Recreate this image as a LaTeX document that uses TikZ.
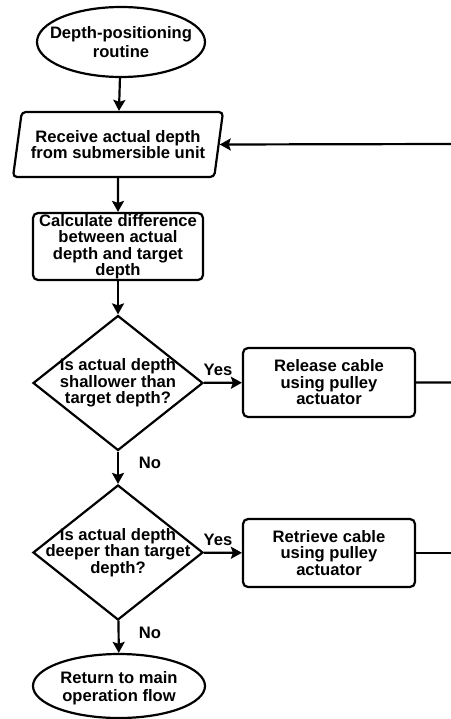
\documentclass[tikz,border=0pt]{standalone}
\usepackage{fontspec}
\setmainfont{Liberation Sans}
\usetikzlibrary{shapes.geometric,arrows.meta}
\begin{document}
\begin{tikzpicture}[x=1pt,y=-1pt,
  every node/.style={font=\bfseries\fontsize{16.6}{16.5}\selectfont, align=center, inner sep=0pt},
  ln/.style={line width=2.2pt},
  arr/.style={ln,-{Stealth[length=11pt,width=12pt,inset=2pt]}},
  term/.style={ellipse, draw, ln, minimum width=168pt, minimum height=70pt},
  termtext/.style={font=\bfseries\fontsize{16.6}{18.5}\selectfont},
  io/.style={trapezium, draw, ln, trapezium left angle=73, trapezium right angle=107, trapezium stretches body, minimum width=210pt, minimum height=65pt, rounded corners=4pt},
  proc/.style={rectangle, draw, ln, rounded corners=5pt},
  dec/.style={diamond, draw, ln, minimum width=170pt, minimum height=135pt},
  lbl/.style={font=\bfseries\fontsize{16.6}{16.5}\selectfont}
]
\useasboundingbox (0,0) rectangle (450,719);
\node[term] (start) at (121,42) {};
\node[termtext] (startt) at (121,42) {Depth-positioning\\routine};
\node[io] (recv) at (118,144.5) {Receive actual depth\\from submersible unit};
\node[proc, minimum width=170pt, minimum height=67pt] (calc) at (118,246.5) {Calculate difference\\between actual\\depth and target\\depth};
\node[dec] (d1) at (118,383) {};
\node (d1t) at (118,383) {Is actual depth\\shallower than\\target depth?};
\node[proc, minimum width=172pt, minimum height=69pt] (rel) at (329,382.5) {Release cable\\using pulley\\actuator};
\node[dec] (d2) at (118,552.5) {};
\node (d2t) at (118,552.5) {Is actual depth\\deeper than target\\depth?};
\node[proc, minimum width=172pt, minimum height=68pt] (ret) at (329,553) {Retrieve cable\\using pulley\\actuator};
\node[term, minimum width=172pt, minimum height=64pt] (end) at (119,686) {};
\node[termtext] (endt) at (119,688) {Return to main\\operation flow};
\node[lbl] (y1) at (218,370) {Yes};
\node[lbl] (y2) at (218,540) {Yes};
\node[lbl] (n1) at (150,463) {No};
\node[lbl] (n2) at (150,633) {No};
\coordinate (c1) at (453,382.5);
\coordinate (c2) at (453,553);
\coordinate (c0) at (453,144);
\draw[arr] (start) -- (recv);
\draw[arr] (recv) -- (calc);
\draw[arr] (calc) -- (d1);
\draw[arr] (d1) -- (rel);
\draw[arr] (d1) -- (d2);
\draw[arr] (d2) -- (ret);
\draw[arr] (d2) -- (end);
\draw[ln] (ret.east) -- (c2) -- (c1);
\draw[arr] (rel.east) -- (c1) -- (c0) -- (recv.east);
\end{tikzpicture}
\end{document}
